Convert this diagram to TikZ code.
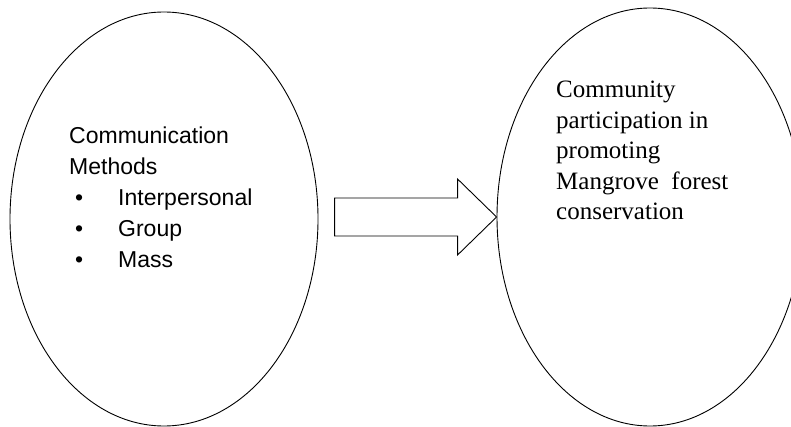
\documentclass[tikz,border=0pt]{standalone}
\usepackage{fontspec}
\setmainfont{Liberation Serif}
\newfontfamily\methodsfont{Liberation Sans}
\usetikzlibrary{shapes.geometric,positioning}

\begin{document}
\begin{tikzpicture}[x=1pt,y=-1pt]
    % Styles for the two ideas and their texts
    \tikzset{
        idea ellipse/.style={
            draw, ellipse, line width=0.9pt, inner sep=0pt
        },
        methods text/.style={
            inner sep=0pt, align=left,
            font=\methodsfont\fontsize{23}{31}\selectfont
        },
        outcome text/.style={
            inner sep=0pt, align=left,
            font=\fontsize{25}{30.5}\selectfont
        },
        block arrow/.style={
            draw, line width=0.9pt, fill=white
        }
    }
    \useasboundingbox (0,0) rectangle (791,427);

    % The two ellipses
    \node[idea ellipse, minimum width=308pt, minimum height=414pt] (methods) at (164,219) {};
    \node[idea ellipse, minimum width=306pt, minimum height=418pt] (participation) at (650,217) {};

    % Texts inside them
    \node[methods text, anchor=north west] (methodslist) at (69,127) {%
        Communication\\
        Methods\\
        \makebox[49pt][l]{\hspace{6pt}\textbullet}Interpersonal\\
        \makebox[49pt][l]{\hspace{6pt}\textbullet}Group\\
        \makebox[49pt][l]{\hspace{6pt}\textbullet}Mass};
    \node[outcome text, anchor=north west] (participationtext) at (556,81) {%
        Community\\
        participation in\\
        promoting\\
        Mangrove\ \ forest\\
        conservation};

    % Block arrow ending on the right ellipse
    \coordinate (arrowtip) at (participation.west);
    \draw[block arrow] (arrowtip) -- ++(-39,38) -- ++(0,-19) -- ++(-123,0)
        -- ++(0,-38) -- ++(123,0) -- ++(0,-19) -- cycle;
\end{tikzpicture}
\end{document}
